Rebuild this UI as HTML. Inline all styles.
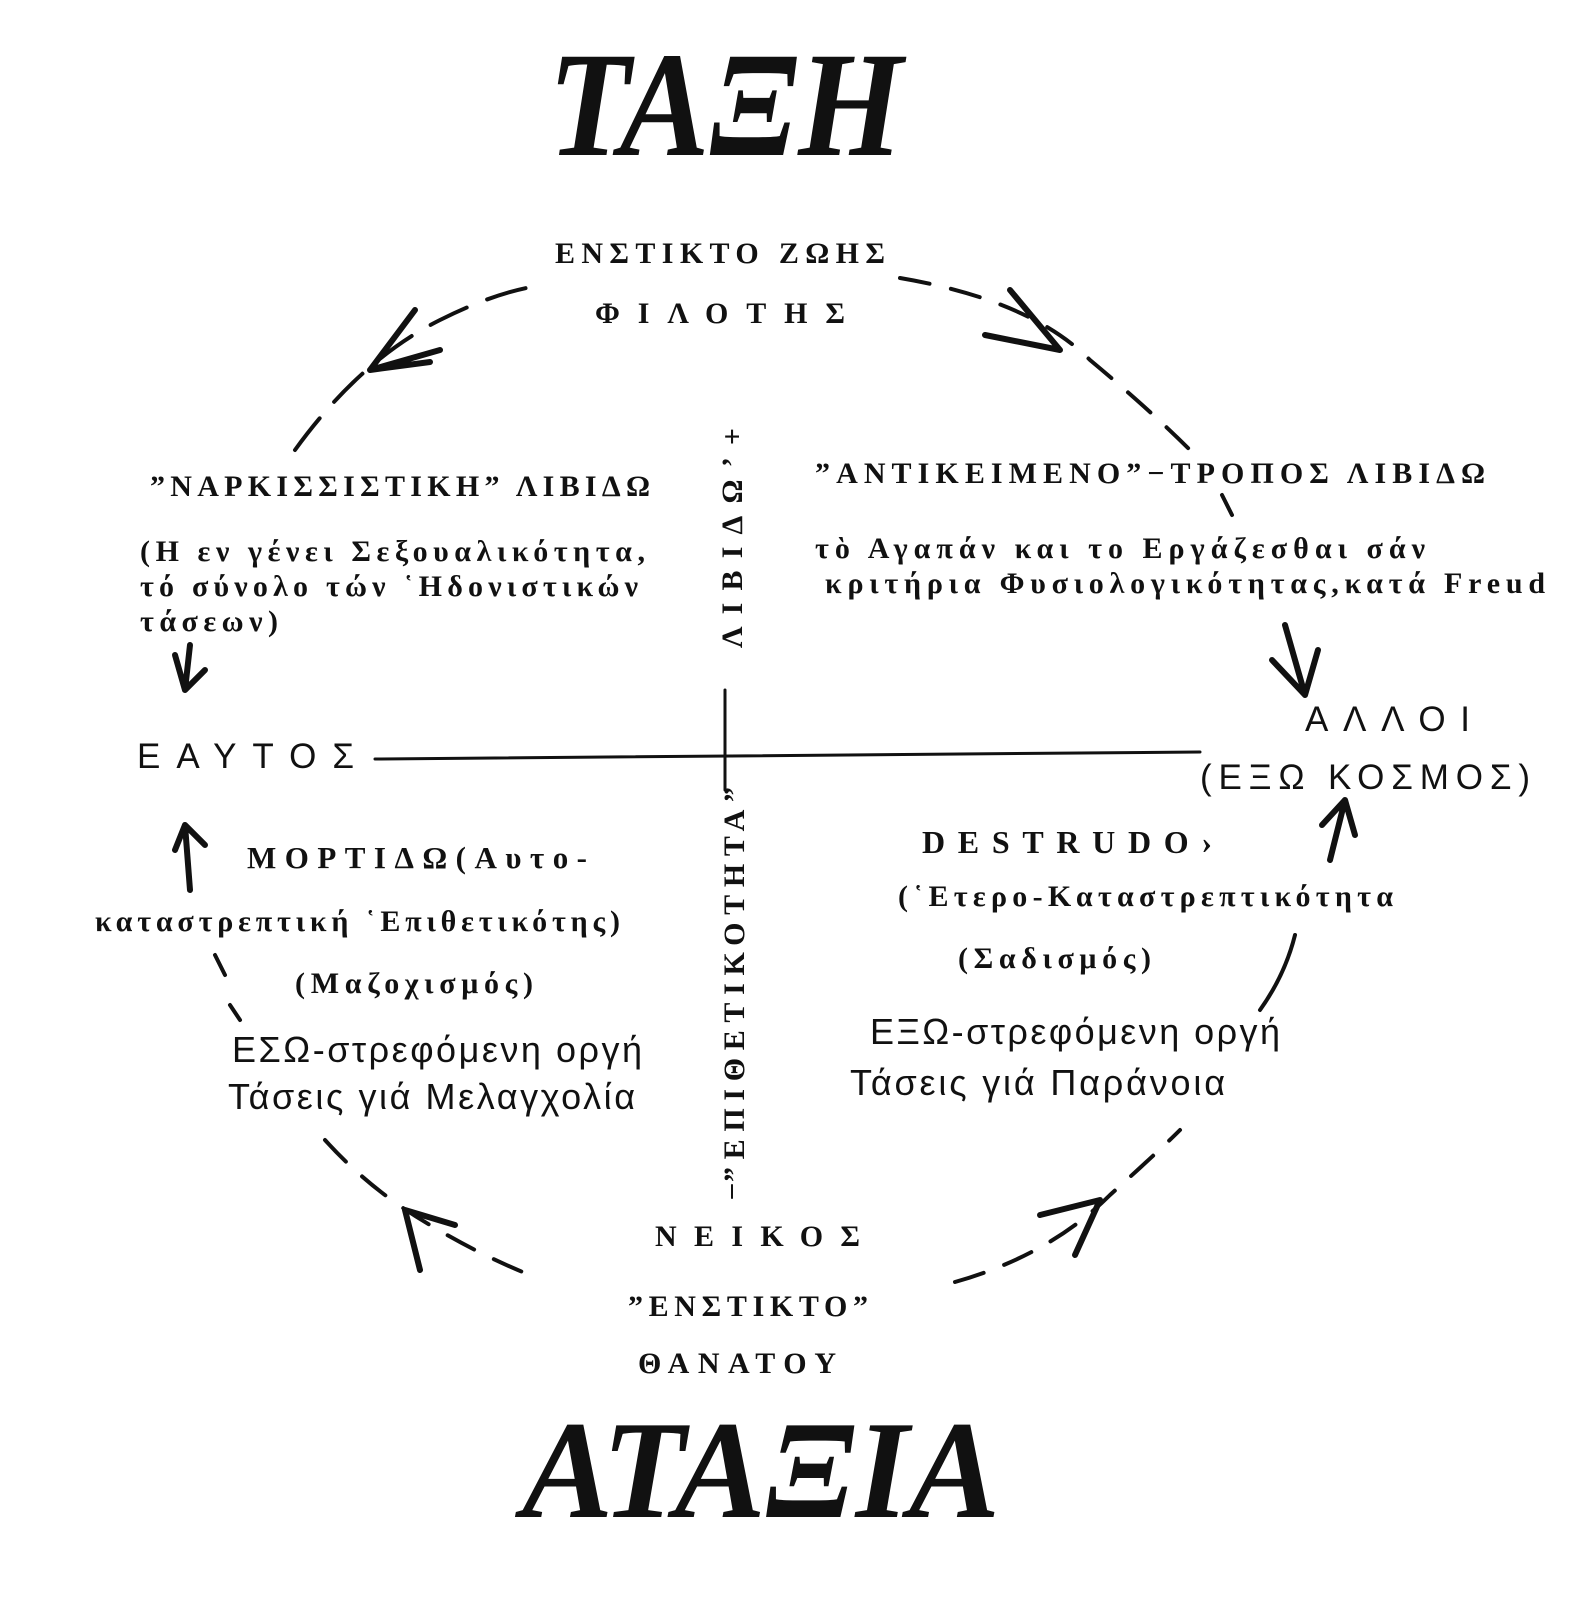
<!DOCTYPE html>
<html><head><meta charset="utf-8"><style>
html,body{margin:0;padding:0;background:#fff;}
svg{display:block;}
.s{font-family:"Liberation Serif","DejaVu Serif",serif;font-weight:bold;fill:#111;}
.a{font-family:"Liberation Sans","DejaVu Sans",sans-serif;fill:#111;}
</style></head><body>
<svg width="1581" height="1600" viewBox="0 0 1581 1600" xmlns="http://www.w3.org/2000/svg">
<g fill="none" stroke="#111" stroke-width="4" stroke-linecap="round">
<path d="M295 450 Q360 360 440 320 Q500 290 545 285" stroke-dasharray="40 22"/>
<path d="M900 278 Q1030 300 1090 360 Q1150 410 1190 450" stroke-dasharray="30 22"/>
<path d="M1222 495 L1232 515" />
<path d="M215 955 L225 975 M230 1005 L240 1020"/>
<path d="M1295 935 Q1285 975 1260 1010"/>
<path d="M325 1140 Q370 1190 430 1225 Q480 1255 530 1275" stroke-dasharray="30 22"/>
<path d="M955 1282 Q1050 1255 1110 1195 Q1160 1150 1180 1130" stroke-dasharray="30 22"/>
<path d="M375 759 L1200 752" stroke-width="3"/>
<path d="M725 690 L725 790" stroke-width="3"/>
<path d="M732 1185 L732 1198" stroke-width="2"/>
<g stroke-width="6" stroke-linejoin="round">
<path d="M415 310 L370 370 L440 350 M370 370 L430 362"/>
<path d="M1010 290 L1060 350 L985 335"/>
<path d="M1285 625 L1305 695 L1272 660 M1305 695 L1318 650"/>
<path d="M190 645 L185 690 L205 670 M185 690 L175 655"/>
<path d="M190 890 L185 825 L175 850 M185 825 L205 845"/>
<path d="M1330 860 L1345 800 L1355 835 M1345 800 L1322 825"/>
<path d="M420 1270 L405 1210 L455 1225"/>
<path d="M1075 1255 L1100 1200 L1040 1215"/>
</g>
</g>
<text class="s" x="548" y="155" font-size="150" font-style="italic" textLength="355" lengthAdjust="spacingAndGlyphs">ΤΑΞΗ</text>
<text class="s" x="522" y="1517" font-size="140" font-style="italic" textLength="478" lengthAdjust="spacingAndGlyphs">ΑΤΑΞΙΑ</text>
<text class="s" x="555" y="263" font-size="30" textLength="330">ΕΝΣΤΙΚΤΟ ΖΩΗΣ</text>
<text class="s" x="595" y="323" font-size="30" textLength="250">ΦΙΛΟΤΗΣ</text>
<text class="s" x="150" y="496" font-size="30" textLength="500">”ΝΑΡΚΙΣΣΙΣΤΙΚΗ” ΛΙΒΙΔΩ</text>
<text class="s" x="140" y="561" font-size="30" textLength="505">(Η εν γένει Σεξουαλικότητα,</text>
<text class="s" x="140" y="596" font-size="30" textLength="498">τό σύνολο τών ῾Ηδονιστικών</text>
<text class="s" x="140" y="631" font-size="30" textLength="138">τάσεων)</text>
<text class="s" x="815" y="483" font-size="30" textLength="670">”ΑΝΤΙΚΕΙΜΕΝΟ”−ΤΡΟΠΟΣ ΛΙΒΙΔΩ</text>
<text class="s" x="815" y="558" font-size="30" textLength="610">τὸ Αγαπάν  και το  Εργάζεσθαι σάν</text>
<text class="s" x="825" y="593" font-size="30" textLength="720">κριτήρια Φυσιολογικότητας,κατά  Freud</text>
<text class="a" x="137" y="768" font-size="35" textLength="217">ΕΑΥΤΟΣ</text>
<text class="a" x="1305" y="731" font-size="35" textLength="165">ΑΛΛΟΙ</text>
<text class="a" x="1200" y="789" font-size="35" textLength="330">(ΕΞΩ ΚΟΣΜΟΣ)</text>
<text class="s" x="247" y="868" font-size="31" textLength="340">ΜΟΡΤΙΔΩ(Αυτο-</text>
<text class="s" x="95" y="931" font-size="30" textLength="525">καταστρεπτική ῾Επιθετικότης)</text>
<text class="s" x="295" y="993" font-size="30" textLength="238">(Μαζοχισμός)</text>
<text class="a" x="232" y="1062" font-size="36" textLength="410">ΕΣΩ-στρεφόμενη  οργή</text>
<text class="a" x="228" y="1109" font-size="36" textLength="407">Τάσεις γιά Μελαγχολία</text>
<text class="s" x="922" y="853" font-size="32" textLength="290">DESTRUDO›</text>
<text class="s" x="898" y="906" font-size="30" textLength="495">(῾Ετερο-Καταστρεπτικότητα</text>
<text class="s" x="958" y="968" font-size="30" textLength="193">(Σαδισμός)</text>
<text class="a" x="870" y="1044" font-size="36" textLength="410">ΕΞΩ-στρεφόμενη  οργή</text>
<text class="a" x="850" y="1095" font-size="36" textLength="375">Τάσεις γιά  Παράνοια</text>
<text class="s" x="655" y="1246" font-size="30" textLength="205">ΝΕΙΚΟΣ</text>
<text class="s" x="628" y="1316" font-size="30" textLength="240">”ΕΝΣΤΙΚΤΟ”</text>
<text class="s" x="638" y="1373" font-size="30" textLength="198">ΘΑΝΑΤΟΥ</text>
<text class="s" font-size="30" textLength="220" transform="translate(742,648) rotate(-90)">ΛΙΒΙΔΩ’+</text>
<text class="s" font-size="30" textLength="395" transform="translate(744,1182) rotate(-90)">”ΕΠΙΘΕΤΙΚΟΤΗΤΑ”</text>
</svg>
</body></html>
